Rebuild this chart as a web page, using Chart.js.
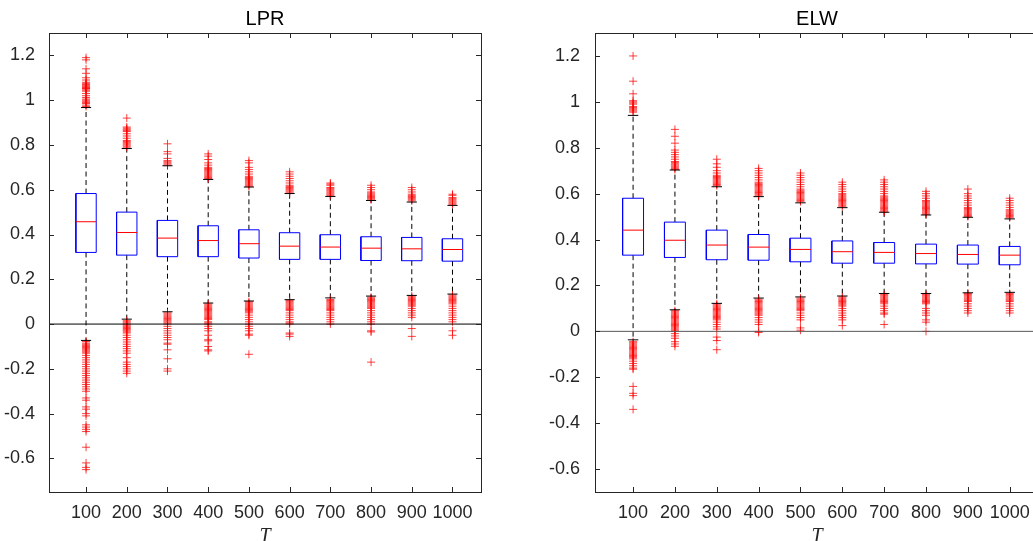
<!DOCTYPE html>
<html>
<head>
<meta charset="utf-8">
<title>LPR / ELW box plots</title>
<script src="https://cdn.jsdelivr.net/npm/chart.js@4.4.0/dist/chart.umd.min.js"></script>
<style>
  html, body { margin: 0; padding: 0; background: #fff; overflow: hidden; }
  #wrap { position: relative; width: 1033px; height: 541px; overflow: hidden; }
  canvas { position: absolute; top: 0; }
  #lpr-chart { left: 0; }
  #elw-chart { left: 520px; }
</style>
</head>
<body>
<div id="wrap">
  <canvas id="lpr-chart" width="520" height="541"></canvas>
  <canvas id="elw-chart" width="540" height="541"></canvas>
</div>
<script>
// categories / tick labels
const tValues = [100, 200, 300, 400, 500, 600, 700, 800, 900, 1000];
const lprYTicks = [-0.6, -0.4, -0.2, 0, 0.2, 0.4, 0.6, 0.8, 1, 1.2];
const elwYTicks = [-0.6, -0.4, -0.2, 0, 0.2, 0.4, 0.6, 0.8, 1, 1.2];

// LPR box statistics
const lprQ1     = [0.320, 0.308, 0.301, 0.301, 0.295, 0.289, 0.289, 0.284, 0.283, 0.281];
const lprMedian = [0.457, 0.409, 0.384, 0.373, 0.359, 0.348, 0.344, 0.339, 0.336, 0.333];
const lprQ3     = [0.583, 0.500, 0.463, 0.439, 0.421, 0.408, 0.399, 0.390, 0.387, 0.381];
const lprLower  = [-0.073, 0.022, 0.055, 0.094, 0.103, 0.109, 0.117, 0.125, 0.128, 0.134];
const lprUpper  = [0.967, 0.784, 0.707, 0.646, 0.612, 0.583, 0.570, 0.552, 0.545, 0.530];
const lprOutHigh = [
  [0.972, 0.978, 0.985, 0.99, 0.995, 1.0, 1.005, 1.012, 1.02, 1.03, 1.04, 1.045, 1.05, 1.052, 1.055, 1.058, 1.06, 1.065, 1.07, 1.075, 1.08, 1.09, 1.1, 1.12, 1.14, 1.18, 1.19],
  [0.79, 0.795, 0.8, 0.805, 0.81, 0.815, 0.82, 0.83, 0.84, 0.85, 0.86, 0.865, 0.87, 0.875, 0.88, 0.92],
  [0.71, 0.715, 0.72, 0.725, 0.73, 0.74, 0.76, 0.77, 0.805],
  [0.65, 0.655, 0.66, 0.665, 0.67, 0.675, 0.68, 0.685, 0.69, 0.695, 0.7, 0.71, 0.72, 0.735, 0.75, 0.76],
  [0.615, 0.62, 0.625, 0.63, 0.635, 0.64, 0.645, 0.65, 0.655, 0.66, 0.67, 0.68, 0.69, 0.7, 0.72, 0.73],
  [0.585, 0.59, 0.595, 0.6, 0.605, 0.61, 0.615, 0.62, 0.63, 0.64, 0.65, 0.66, 0.67, 0.68],
  [0.575, 0.58, 0.585, 0.59, 0.595, 0.6, 0.605, 0.61, 0.62, 0.625, 0.63],
  [0.555, 0.56, 0.565, 0.57, 0.575, 0.58, 0.585, 0.59, 0.6, 0.61, 0.62],
  [0.55, 0.555, 0.56, 0.565, 0.57, 0.575, 0.58, 0.59, 0.6, 0.61],
  [0.535, 0.54, 0.545, 0.55, 0.555, 0.56, 0.565, 0.575, 0.58]
];
const lprOutLow = [
  [-0.078, -0.085, -0.09, -0.095, -0.1, -0.105, -0.11, -0.115, -0.12, -0.125, -0.13, -0.14, -0.15, -0.16, -0.17, -0.18, -0.19, -0.2, -0.21, -0.22, -0.23, -0.24, -0.25, -0.26, -0.27, -0.28, -0.29, -0.3, -0.33, -0.34, -0.37, -0.38, -0.4, -0.41, -0.45, -0.46, -0.47, -0.48, -0.55, -0.62, -0.64, -0.65],
  [0.015, 0.01, 0.005, 0, -0.005, -0.01, -0.015, -0.02, -0.025, -0.03, -0.035, -0.04, -0.05, -0.06, -0.07, -0.08, -0.09, -0.1, -0.11, -0.12, -0.13, -0.15, -0.17, -0.18, -0.19, -0.2, -0.21, -0.22],
  [0.05, 0.045, 0.04, 0.035, 0.03, 0.025, 0.02, 0.015, 0.01, 0.005, 0, -0.01, -0.02, -0.03, -0.04, -0.05, -0.06, -0.07, -0.085, -0.09, -0.115, -0.155, -0.2, -0.21],
  [0.09, 0.085, 0.08, 0.075, 0.07, 0.065, 0.06, 0.055, 0.05, 0.045, 0.04, 0.035, 0.03, 0.025, 0.02, 0.01, 0.005, 0, -0.01, -0.02, -0.03, -0.05, -0.07, -0.075, -0.1, -0.115, -0.12],
  [0.1, 0.095, 0.09, 0.085, 0.08, 0.075, 0.07, 0.065, 0.06, 0.055, 0.05, 0.04, 0.03, 0.02, 0.01, 0, -0.01, -0.02, -0.03, -0.045, -0.05, -0.135],
  [0.105, 0.1, 0.095, 0.09, 0.085, 0.08, 0.075, 0.07, 0.065, 0.06, 0.05, 0.04, 0.03, 0.02, 0.01, 0.005, 0, -0.04, -0.045, -0.055],
  [0.11, 0.105, 0.1, 0.095, 0.09, 0.085, 0.08, 0.075, 0.07, 0.065, 0.06, 0.05, 0.04, 0.03, 0.02, 0.01, 0],
  [0.12, 0.115, 0.11, 0.105, 0.1, 0.095, 0.09, 0.085, 0.08, 0.075, 0.07, 0.06, 0.05, 0.04, 0.03, 0.02, 0.01, 0, -0.03, -0.035, -0.17],
  [0.125, 0.12, 0.115, 0.11, 0.105, 0.1, 0.095, 0.09, 0.085, 0.08, 0.07, 0.06, 0.05, 0.04, 0.03, -0.02, -0.055],
  [0.13, 0.125, 0.12, 0.115, 0.11, 0.105, 0.1, 0.095, 0.09, 0.08, 0.07, 0.06, 0.05, 0.04, 0.03, 0.02, 0.01, -0.03, -0.05]
];

// ELW box statistics
const elwQ1     = [0.332, 0.322, 0.312, 0.310, 0.303, 0.297, 0.297, 0.294, 0.293, 0.290];
const elwMedian = [0.441, 0.397, 0.376, 0.367, 0.357, 0.347, 0.344, 0.339, 0.335, 0.332];
const elwQ3     = [0.580, 0.476, 0.441, 0.422, 0.406, 0.394, 0.387, 0.380, 0.376, 0.370];
const elwLower  = [-0.037, 0.094, 0.122, 0.145, 0.150, 0.154, 0.165, 0.165, 0.168, 0.170];
const elwUpper  = [0.941, 0.703, 0.630, 0.587, 0.560, 0.539, 0.519, 0.507, 0.497, 0.490];
const elwOutHigh = [
  [0.955, 0.96, 0.965, 0.97, 0.975, 0.98, 0.99, 0.995, 1.0, 1.005, 1.035, 1.09, 1.2],
  [0.705, 0.71, 0.715, 0.72, 0.725, 0.73, 0.735, 0.74, 0.75, 0.76, 0.77, 0.78, 0.79, 0.82, 0.85, 0.88],
  [0.635, 0.64, 0.645, 0.65, 0.655, 0.66, 0.665, 0.67, 0.675, 0.68, 0.69, 0.7, 0.715, 0.73, 0.75],
  [0.59, 0.595, 0.6, 0.605, 0.61, 0.615, 0.62, 0.625, 0.63, 0.635, 0.64, 0.645, 0.65, 0.66, 0.67, 0.68, 0.69, 0.7, 0.71],
  [0.565, 0.57, 0.575, 0.58, 0.585, 0.59, 0.595, 0.6, 0.605, 0.61, 0.615, 0.62, 0.63, 0.64, 0.65, 0.66, 0.67, 0.68, 0.69],
  [0.545, 0.55, 0.555, 0.56, 0.565, 0.57, 0.575, 0.58, 0.585, 0.59, 0.595, 0.6, 0.61, 0.62, 0.63, 0.64, 0.65],
  [0.52, 0.525, 0.53, 0.535, 0.54, 0.545, 0.55, 0.555, 0.56, 0.565, 0.57, 0.575, 0.58, 0.585, 0.59, 0.6, 0.61, 0.62, 0.63, 0.64, 0.65, 0.66],
  [0.51, 0.515, 0.52, 0.525, 0.53, 0.535, 0.54, 0.545, 0.55, 0.555, 0.56, 0.565, 0.57, 0.58, 0.59, 0.6, 0.61],
  [0.5, 0.505, 0.51, 0.515, 0.52, 0.525, 0.53, 0.535, 0.54, 0.55, 0.56, 0.57, 0.58, 0.59, 0.6, 0.62],
  [0.495, 0.5, 0.505, 0.51, 0.515, 0.52, 0.525, 0.53, 0.54, 0.55, 0.56, 0.57, 0.58]
];
const elwOutLow = [
  [-0.045, -0.05, -0.055, -0.06, -0.065, -0.07, -0.075, -0.08, -0.085, -0.09, -0.095, -0.1, -0.105, -0.11, -0.115, -0.12, -0.13, -0.14, -0.15, -0.16, -0.165, -0.24, -0.27, -0.28, -0.34],
  [0.09, 0.085, 0.08, 0.075, 0.07, 0.065, 0.06, 0.055, 0.05, 0.045, 0.04, 0.035, 0.03, 0.025, 0.02, 0.015, 0.01, 0.005, 0, -0.01, -0.02, -0.03, -0.045, -0.055, -0.065],
  [0.12, 0.115, 0.11, 0.105, 0.1, 0.095, 0.09, 0.085, 0.08, 0.075, 0.07, 0.065, 0.06, 0.055, 0.05, 0.04, 0.03, 0.02, 0.01, -0.025, -0.04, -0.08],
  [0.14, 0.135, 0.13, 0.125, 0.12, 0.115, 0.11, 0.105, 0.1, 0.095, 0.09, 0.085, 0.08, 0.075, 0.07, 0.06, 0.05, 0.04, 0.03, 0, -0.005],
  [0.145, 0.14, 0.135, 0.13, 0.125, 0.12, 0.115, 0.11, 0.105, 0.1, 0.095, 0.09, 0.08, 0.07, 0.06, 0.05, 0.015, 0.005],
  [0.15, 0.145, 0.14, 0.135, 0.13, 0.125, 0.12, 0.115, 0.11, 0.1, 0.09, 0.08, 0.07, 0.06, 0.05, 0.025],
  [0.16, 0.155, 0.15, 0.145, 0.14, 0.135, 0.13, 0.125, 0.12, 0.11, 0.1, 0.09, 0.08, 0.075, 0.03],
  [0.16, 0.155, 0.15, 0.145, 0.14, 0.135, 0.13, 0.125, 0.12, 0.1, 0.09, 0.08, 0.07, 0.05, 0.04, 0],
  [0.165, 0.16, 0.155, 0.15, 0.145, 0.14, 0.135, 0.13, 0.12, 0.11, 0.1, 0.09, 0.08],
  [0.165, 0.16, 0.155, 0.15, 0.145, 0.14, 0.135, 0.13, 0.12, 0.11, 0.1, 0.09, 0.08]
];

const X_MIN = 9;
const X_MAX = 1070;
const BOX_HALF = 25;   // half box width, in T units
const CAP_HALF = 12.5; // half whisker-cap width
const SANS = "'Liberation Sans', Arial, sans-serif";
const INK = '#262626';

// Inner tick marks on all four sides plus the axes frame
const frameTicks = {
    id: 'frameTicks',
    afterDraw(chart) {
        const { ctx, chartArea: a, scales: { x, y } } = chart;
        const len = 5;
        ctx.save();
        ctx.strokeStyle = INK;
        ctx.lineWidth = 1;
        ctx.beginPath();
        x.ticks.forEach(t => {
            const px = Math.round(x.getPixelForValue(t.value)) + 0.5;
            ctx.moveTo(px, a.bottom); ctx.lineTo(px, a.bottom - len);
            ctx.moveTo(px, a.top); ctx.lineTo(px, a.top + len);
        });
        y.ticks.forEach(t => {
            const py = Math.round(y.getPixelForValue(t.value)) + 0.5;
            ctx.moveTo(a.left, py); ctx.lineTo(a.left + len, py);
            ctx.moveTo(a.right, py); ctx.lineTo(a.right - len, py);
        });
        ctx.stroke();
        ctx.strokeRect(a.left + 0.5, a.top + 0.5, a.right - a.left, a.bottom - a.top);
        ctx.restore();
    }
};

function lineSet(data, color, dash) {
    return {
        data: data,
        showLine: true,
        borderColor: color,
        borderWidth: 1,
        borderDash: dash || [],
        pointRadius: 0,
        fill: false,
        tension: 0,
        spanGaps: false
    };
}

function buildDatasets(q1, med, q3, lower, upper, outHigh, outLow, zeroColor) {
    const boxes = [], medians = [], whiskers = [], caps = [], outliers = [];
    tValues.forEach((t, i) => {
        boxes.push({ x: t - BOX_HALF, y: q1[i] }, { x: t + BOX_HALF, y: q1[i] },
                   { x: t + BOX_HALF, y: q3[i] }, { x: t - BOX_HALF, y: q3[i] },
                   { x: t - BOX_HALF, y: q1[i] }, { x: t, y: null });
        medians.push({ x: t - BOX_HALF, y: med[i] }, { x: t + BOX_HALF, y: med[i] }, { x: t, y: null });
        whiskers.push({ x: t, y: q3[i] }, { x: t, y: upper[i] }, { x: t, y: null },
                      { x: t, y: q1[i] }, { x: t, y: lower[i] }, { x: t, y: null });
        caps.push({ x: t - CAP_HALF, y: upper[i] }, { x: t + CAP_HALF, y: upper[i] }, { x: t, y: null },
                  { x: t - CAP_HALF, y: lower[i] }, { x: t + CAP_HALF, y: lower[i] }, { x: t, y: null });
        outHigh[i].concat(outLow[i]).forEach(v => outliers.push({ x: t, y: v }));
    });

    // first dataset is painted last (on top)
    return [
        lineSet(medians, '#ff0000'),
        lineSet(boxes, '#0000ff'),
        lineSet([{ x: X_MIN, y: 0 }, { x: X_MAX, y: 0 }], zeroColor),
        lineSet(caps, '#000000'),
        {
            data: outliers,
            showLine: false,
            pointStyle: 'cross',
            pointRadius: 4,
            borderColor: 'rgba(255, 0, 0, 0.75)',
            backgroundColor: 'rgba(255, 0, 0, 0.75)',
            borderWidth: 1
        },
        lineSet(whiskers, '#000000', [5, 3.5])
    ];
}

function makeChart(canvasId, title, datasets, yTicks, yMin, yMax, yWidth, yPad, padRight) {
    const ctx = document.getElementById(canvasId).getContext('2d');
    return new Chart(ctx, {
        type: 'scatter',
        data: { datasets: datasets },
        plugins: [frameTicks],
        options: {
            responsive: false,
            animation: false,
            events: [],
            layout: { padding: { left: 0, right: padRight, top: 0, bottom: 0 } },
            plugins: {
                legend: { display: false },
                tooltip: { enabled: false },
                title: {
                    display: true,
                    text: title,
                    fullSize: false,
                    color: '#000',
                    font: { family: SANS, size: 20, weight: 'normal' },
                    padding: { top: 7, bottom: 2 }
                }
            },
            scales: {
                x: {
                    type: 'linear',
                    min: X_MIN,
                    max: X_MAX,
                    grid: { display: false },
                    border: { display: false },
                    afterBuildTicks: s => { s.ticks = tValues.map(v => ({ value: v })); },
                    afterFit: s => { s.height = 49; },
                    ticks: {
                        autoSkip: false,
                        maxRotation: 0,
                        minRotation: 0,
                        padding: 2,
                        color: INK,
                        font: { family: SANS, size: 18 },
                        callback: v => String(v)
                    },
                    title: {
                        display: true,
                        text: 'T',
                        color: INK,
                        padding: 0,
                        font: { family: "'Liberation Serif', 'Times New Roman', serif", style: 'italic', size: 20, lineHeight: 0.45 }
                    }
                },
                y: {
                    type: 'linear',
                    min: yMin,
                    max: yMax,
                    grid: { display: false },
                    border: { display: false },
                    afterBuildTicks: s => { s.ticks = yTicks.map(v => ({ value: v })); },
                    afterFit: s => { s.width = yWidth; },
                    ticks: {
                        padding: yPad,
                        color: INK,
                        font: { family: SANS, size: 18 },
                        callback: v => String(Math.round(v * 10) / 10)
                    }
                }
            }
        }
    });
}

makeChart('lpr-chart', 'LPR',
    buildDatasets(lprQ1, lprMedian, lprQ3, lprLower, lprUpper, lprOutHigh, lprOutLow, '#000000'),
    lprYTicks, -0.75, 1.3, 49, 6, 39);

makeChart('elw-chart', 'ELW',
    buildDatasets(elwQ1, elwMedian, elwQ3, elwLower, elwUpper, elwOutHigh, elwOutLow, '#555555'),
    elwYTicks, -0.7, 1.3, 75, 7, 21);
</script>
</body>
</html>
